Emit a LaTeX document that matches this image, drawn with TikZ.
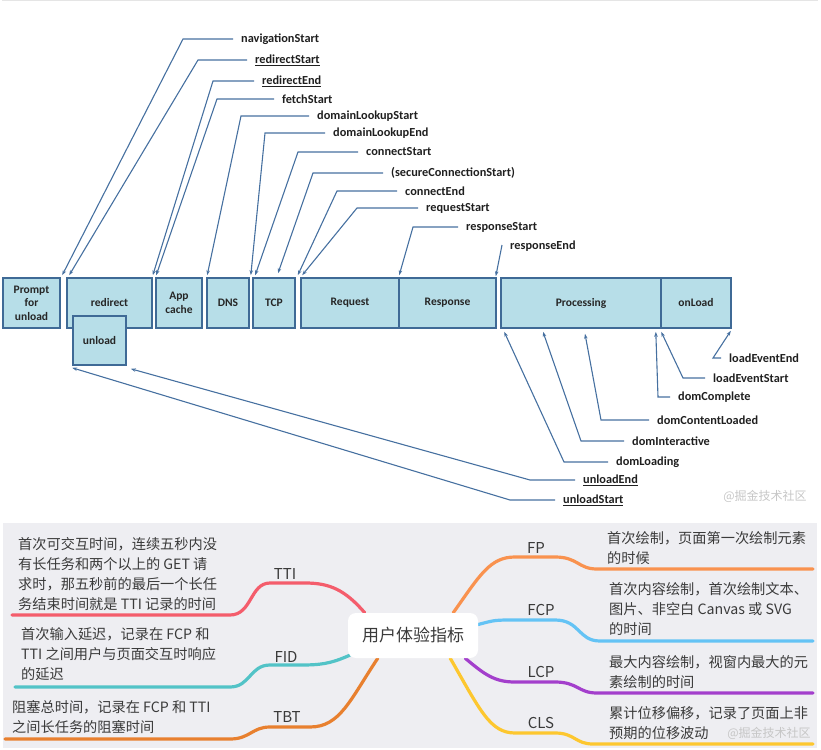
\documentclass[tikz,border=0pt]{standalone}
\usepackage{fontspec}
\setmainfont{Carlito}
\newfontfamily\cjk{Noto Sans CJK SC}
\usetikzlibrary{arrows.meta,positioning,backgrounds}

\definecolor{boxfill}{HTML}{B7DEE8}
\definecolor{boxline}{HTML}{3F6A96}
\definecolor{leadline}{HTML}{4670A0}
\definecolor{panel}{HTML}{EEEEF2}
\definecolor{ink}{HTML}{3A3A3A}
\definecolor{cTTI}{HTML}{F45D6C}
\definecolor{cFID}{HTML}{52C3C7}
\definecolor{cTBT}{HTML}{E8802F}
\definecolor{cFP}{HTML}{F9924F}
\definecolor{cFCP}{HTML}{64C3F5}
\definecolor{cLCP}{HTML}{A33FCC}
\definecolor{cCLS}{HTML}{FDC72F}

\begin{document}
\begin{tikzpicture}[
  x=1pt, y=-1pt,
  box/.style={draw=boxline, fill=boxfill, line width=1.6pt, align=center,
              inner sep=0pt, minimum height=50pt, text=black!85,
              font=\bfseries\fontsize{11.5}{13.5}\selectfont},
  lbl/.style={anchor=west, inner sep=0pt, text=black!88,
              font=\bfseries\fontsize{12.3}{14}\selectfont},
  ar/.style={-{Stealth[length=5pt,width=3.5pt]}, draw=leadline, line width=1.1pt},
  hub/.style={fill=white, rounded corners=8pt, minimum width=130pt,
              minimum height=45pt, text=ink, font=\cjk\fontsize{17}{20}\selectfont},
  tag/.style={inner sep=0pt, text=ink, font=\cjk\fontsize{15}{18}\selectfont},
  note/.style={anchor=north west, inner sep=0pt, align=left, text=ink,
               font=\cjk\fontsize{14.2}{20}\selectfont},
  branch/.style={draw=#1, line width=3.2pt, line cap=round},
  watermark/.style={text=gray!45, font=\cjk\fontsize{12}{14}\selectfont},
]
\useasboundingbox (0,0) rectangle (821,749);
\draw[gray!20] (2,0.5) -- (818,0.5);

\node[box, minimum width=57pt] (prompt)     at (31.5,303) {Prompt\\for\\unload};
\node[box, minimum width=85pt] (redirect)   at (109.5,303) {redirect};
\node[box, minimum width=53pt, minimum height=49pt] (unload) at (99.5,340.5) {unload};
\node[box, minimum width=46pt] (appcache)   at (179,303) {App\\cache};
\node[box, minimum width=42pt] (dns)        at (228,303) {DNS};
\node[box, minimum width=42pt] (tcp)        at (274,303) {TCP};
\node[box, minimum width=98pt] (request)    at (350,303) {Request};
\node[box, minimum width=97pt] (response)   at (447.5,303) {Response};
\node[box, minimum width=160pt] (processing) at (581,303) {Processing};
\node[box, minimum width=70pt] (onload)     at (696,303) {onLoad};

\node[lbl] (navstart)   at (241,39)  {navigationStart};
\node[lbl] (redstart)   at (255,60)  {\underline{redirectStart}};
\node[lbl] (redend)     at (262,81)  {\underline{redirectEnd}};
\node[lbl] (fetch)      at (282,99)  {fetchStart};
\node[lbl] (dlstart)    at (317,116) {domainLookupStart};
\node[lbl] (dlend)      at (333,133) {domainLookupEnd};
\node[lbl] (cstart)     at (366,152) {connectStart};
\node[lbl] (secure)     at (391,173) {(secureConnectionStart)};
\node[lbl] (cend)       at (405,191) {connectEnd};
\node[lbl] (rqstart)    at (426,208) {requestStart};
\node[lbl] (rsstart)    at (466,227) {responseStart};
\node[lbl] (rsend)      at (510,246) {responseEnd};

\node[lbl] (loadend)    at (729,358) {loadEventEnd};
\node[lbl] (loadstart)  at (713,378) {loadEventStart};
\node[lbl] (complete)   at (678,397) {domComplete};
\node[lbl] (dcl)        at (657,420) {domContentLoaded};
\node[lbl] (interact)   at (632,441) {domInteractive};
\node[lbl] (loading)    at (616,462) {domLoading};
\node[lbl] (unlend)     at (583,480) {\underline{unloadEnd}};
\node[lbl] (unlstart)   at (563,500) {\underline{unloadStart}};

\draw[ar] ([xshift=-8pt]navstart.west) -- ++(-50,0) -- ([xshift=-4pt,yshift=2pt]redirect.north west);
\draw[ar] ([xshift=-8pt]redstart.west) -- ++(-49,0) -- ([xshift=3pt,yshift=2pt]redirect.north west);
\draw[ar] ([xshift=-8pt]redend.west)   -- ++(-41,0) -- ([yshift=2pt]redirect.north east);
\draw[ar] ([xshift=-8pt]fetch.west)    -- ++(-57,0) -- ([xshift=1pt,yshift=2pt]appcache.north west);
\draw[ar] ([xshift=-8pt]dlstart.west)  -- ++(-68,0) -- ([xshift=1pt,yshift=2pt]dns.north west);
\draw[ar] ([xshift=-8pt]dlend.west)    -- ++(-60,0) -- ([xshift=1pt,yshift=2pt]dns.north east);
\draw[ar] ([xshift=-8pt]cstart.west)   -- ++(-60,0) -- ([xshift=3pt,yshift=2pt]tcp.north west);
\draw[ar] ([xshift=-8pt]secure.west)   -- ++(-70,0) -- ([xshift=4pt,yshift=4pt]tcp.north);
\draw[ar] ([xshift=-8pt]cend.west)     -- ++(-60,0) -- ([xshift=2pt,yshift=2pt]tcp.north east);
\draw[ar] ([xshift=-8pt]rqstart.west)  -- ++(-61,0) -- ([xshift=2pt,yshift=2pt]request.north west);
\draw[ar] ([xshift=-8pt]rsstart.west)  -- ++(-45,0) -- ([xshift=1pt,yshift=2pt]response.north west);
\draw[ar] ([xshift=-8pt,yshift=1pt]rsend.west) -- ([xshift=-1pt,yshift=1pt]response.north east);

\draw[ar] ([xshift=-8pt]loadend.west)   -- ++(-8,0)  -- ([xshift=-1pt,yshift=-2pt]onload.south east);
\draw[ar] ([xshift=-8pt]loadstart.west) -- ++(-22,0) -- ([xshift=1pt,yshift=-3pt]onload.south west);
\draw[ar] ([xshift=-8pt]complete.west)  -- ++(-12,0) -- ([xshift=-6pt,yshift=-3pt]processing.south east);
\draw[ar] ([xshift=-8pt]dcl.west)       -- ++(-48,0) -- ([xshift=4pt,yshift=-5pt]processing.south);
\draw[ar] ([xshift=-8pt]interact.west)  -- ++(-43,0) -- ([xshift=-38pt,yshift=-3pt]processing.south);
\draw[ar] ([xshift=-8pt]loading.west)   -- ++(-44,0) -- ([xshift=4pt,yshift=-3pt]processing.south west);
\draw[ar] ([xshift=-8pt]unlend.west)    -- ++(-45,0) -- ([xshift=4pt,yshift=-3pt]unload.south east);
\draw[ar] ([xshift=-8pt]unlstart.west)  -- ++(-45,0) -- ([yshift=-2pt]unload.south west);

\node[watermark] (mark1) at (765,496) {@掘金技术社区};

\node[hub] (hub) at (413,635.5) {用户体验指标};

\node[tag] (tti) at (285,574) {TTI};
\node[tag] (fid) at (286,657) {FID};
\node[tag] (tbt) at (287,717) {TBT};
\node[tag] (fp)  at (536,548) {FP};
\node[tag] (fcp) at (541,610) {FCP};
\node[tag] (lcp) at (541,672) {LCP};
\node[tag] (cls) at (541,723) {CLS};

\node[note] (ttinote) at (18,537) {首次可交互时间，连续五秒内没\\有长任务和两个以上的 GET 请\\求时，那五秒前的最后一个长任\\务结束时间就是 TTI 记录的时间};
\node[note] (fidnote) at (21,627) {首次输入延迟，记录在 FCP 和\\TTI 之间用户与页面交互时响应\\的延迟};
\node[note] (tbtnote) at (12,700) {阻塞总时间，记录在 FCP 和 TTI\\之间长任务的阻塞时间};
\node[note] (fpnote)  at (607,531) {首次绘制，页面第一次绘制元素\\的时候};
\node[note] (fcpnote) at (609,582) {首次内容绘制，首次绘制文本、\\图片、非空白 Canvas 或 SVG\\的时间};
\node[note] (lcpnote) at (609,655) {最大内容绘制，视窗内最大的元\\素绘制的时间};
\node[note] (clsnote) at (609,706) {累计位移偏移，记录了页面上非\\预期的位移波动};

\node[watermark] (mark2) at (769,733) {@掘金技术社区};

\begin{scope}[on background layer]
\fill[panel] (3,523) rectangle (817,748);
\draw[branch=cTTI] ([xshift=17pt]hub.north west) .. controls (345,590) and (330,583) .. (305,583)
  -- (270,583) .. controls (250,583) and (252,615) .. (230,615) -- (12,615);
\draw[branch=cFID] ([xshift=2pt,yshift=3pt]hub.south west) .. controls (330,664) and (320,665) .. (300,665)
  -- (270,665) .. controls (250,665) and (250,687) .. (230,687) -- (15,687);
\draw[branch=cTBT] ([xshift=30pt]hub.south west) .. controls (350,700) and (340,727) .. (310,727)
  -- (270,727) .. controls (252,727) and (250,739) .. (230,739) -- (5,739);
\draw[branch=cFP] ([xshift=-25pt]hub.north east) .. controls (480,575) and (490,557) .. (515,557)
  -- (555,557) .. controls (578,557) and (578,569) .. (597,569) -- (813,569);
\draw[branch=cFCP] ([yshift=11pt]hub.east) .. controls (495,620) .. (515,620)
  -- (555,620) .. controls (580,620) and (578,641) .. (600,641) -- (813,641);
\draw[branch=cLCP] ([xshift=-13pt]hub.south east) .. controls (485,675) and (495,682) .. (515,682)
  -- (555,682) .. controls (578,682) and (578,693) .. (597,693) -- (813,693);
\draw[branch=cCLS] ([xshift=-28pt]hub.south east) .. controls (480,710) and (490,733) .. (515,733)
  -- (555,733) .. controls (575,733) and (575,744) .. (593,744) -- (813,744);
\end{scope}
\end{tikzpicture}
\end{document}
